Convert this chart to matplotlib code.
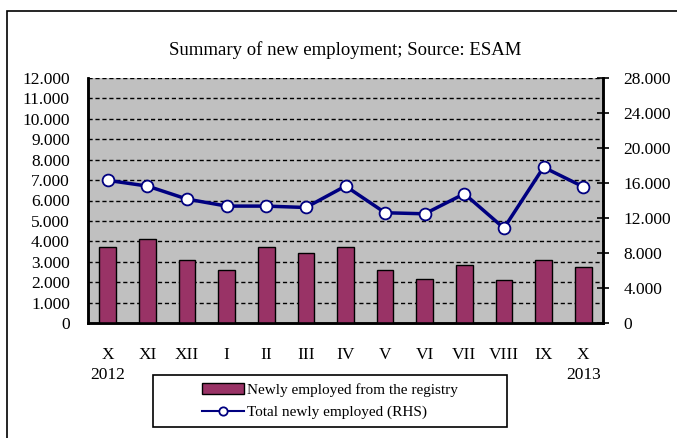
import matplotlib.pyplot as plt
from matplotlib.lines import Line2D
from matplotlib.patches import Rectangle
from matplotlib.ticker import FuncFormatter

# Data
MONTHS = ["X\n2012", "XI", "XII", "I", "II", "III", "IV", "V", "VI", "VII", "VIII", "IX", "X\n2013"]
FROM_REGISTRY = [3730, 4100, 3070, 2610, 3730, 3430, 3730, 2610, 2170, 2840, 2090, 3070, 2760]
TOTAL_NEW = [16300, 15650, 14160, 13360, 13360, 13200, 15650, 12600, 12480, 14770, 10840, 17800, 15570]

BAR_LABEL = "Newly employed from the registry"
LINE_LABEL = "Total newly employed (RHS)"
TITLE = "Summary of new employment; Source: ESAM"

plt.rcParams['font.family'] = ['Liberation Serif', 'DejaVu Serif']

W, H = 677, 438
NAVY = "#000080"


def dots(v, _pos):
    return f"{int(v):,}".replace(",", ".")


fig = plt.figure(figsize=(W / 100, H / 100), dpi=100)
ax = fig.add_axes([88 / W, 1 - 323 / H, (603 - 88) / W, (323 - 78) / H])
ax2 = ax.twinx()

x = list(range(len(MONTHS)))
ax.set_facecolor("#c0c0c0")
ax.bar(x, FROM_REGISTRY, width=0.42, color="#993366", edgecolor="black", linewidth=1, zorder=3,
       label=BAR_LABEL)
ax.set_xlim(-0.5, len(MONTHS) - 0.5)
ax.set_ylim(0, 12000)
ax.set_yticks(range(0, 12001, 1000))
ax.yaxis.set_major_formatter(FuncFormatter(dots))
for y in range(1000, 12001, 1000):
    ax.axhline(y, color="black", linestyle=(0, (3, 2)), linewidth=1, zorder=1)

ax2.plot(x, TOTAL_NEW, color=NAVY, linewidth=2.5, marker="o", markersize=8.5,
         markerfacecolor="white", markeredgecolor=NAVY, markeredgewidth=1.3, zorder=4)
ax2.set_ylim(0, 28000)
ax2.set_yticks(range(0, 28001, 4000))
ax2.yaxis.set_major_formatter(FuncFormatter(dots))

ax.set_xticks(x)
ax.set_xticklabels(MONTHS, linespacing=1.35)
ax.tick_params(axis="x", length=0, pad=17, labelsize=12.5)
ax.tick_params(axis="y", length=0, pad=13, labelsize=12.5)
ax2.tick_params(axis="y", direction="inout", length=9, width=1.2, pad=10, labelsize=12.5)

for a in (ax, ax2):
    a.spines["top"].set_visible(False)
    for s in ("left", "right", "bottom"):
        a.spines[s].set_linewidth(1.8)
        a.spines[s].set_color("black")

fig.text(345 / W, 1 - 50 / H, TITLE, ha="center", va="center", fontsize=13.5)

# Legend, centered inside a fixed box
h1, l1 = ax.get_legend_handles_labels()
line_proxy = Line2D([], [], color=NAVY, linewidth=1.5, marker="o", markersize=6,
                    markerfacecolor="white", markeredgecolor=NAVY, markeredgewidth=1.3)
fig.legend(h1 + [line_proxy], l1 + [LINE_LABEL], loc="center",
           bbox_to_anchor=(330 / W, 1 - 401 / H),
           frameon=False, fontsize=11, handlelength=2.7, handletextpad=0.2,
           labelspacing=0.55, borderpad=0)
fig.patches.append(Rectangle((153 / W, 1 - 427 / H), (507 - 153) / W, (427 - 375) / H,
                             transform=fig.transFigure, fill=False, edgecolor="black",
                             linewidth=1.2))

# outer chart frame (left and top edges visible)
fig.patches.append(Rectangle((7 / W, -0.5), 2, 1.5 - 11 / H, transform=fig.transFigure,
                             fill=False, edgecolor="black", linewidth=1.2, clip_on=False))

fig.savefig("out.png", dpi=100)
